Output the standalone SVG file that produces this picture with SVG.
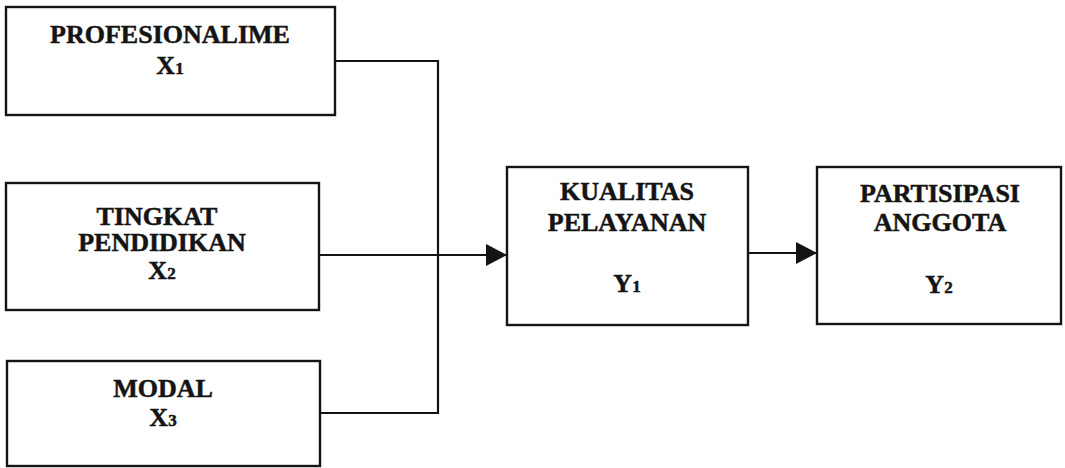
<svg xmlns="http://www.w3.org/2000/svg" width="1065" height="468" viewBox="0 0 1065 468">
  <style>
    .box { fill: #ffffff; stroke: #141414; stroke-width: 2.4; }
    .wire { fill: none; stroke: #141414; stroke-width: 2.2; }
    .lbl { font-family: "Liberation Serif", "Times New Roman", serif; font-weight: bold; font-size: 26px; fill: #141414; stroke: #141414; stroke-width: 0.5; text-anchor: middle; }
    .sub { font-size: 17px; }
  </style>
  <defs>
    <marker id="head" markerWidth="21" markerHeight="22" refX="21" refY="11" orient="auto" markerUnits="userSpaceOnUse">
      <path d="M0,0 L21,11 L0,22 Z" fill="#141414"/>
    </marker>
  </defs>
  <rect width="1065" height="468" fill="#ffffff"/>

  <!-- connectors -->
  <g id="connectors">
    <polyline class="wire" points="335,61 438,61 438,413 320,413"/>
    <line class="wire" x1="319" y1="255" x2="507" y2="255" marker-end="url(#head)"/>
    <line class="wire" x1="748" y1="253" x2="817" y2="253" marker-end="url(#head)"/>
  </g>

  <g id="x1">
    <rect class="box" x="6" y="7" width="329" height="108"/>
    <text class="lbl" x="170" y="43">PROFESIONALIME</text>
    <text class="lbl" x="170" y="74">X<tspan class="sub">1</tspan></text>
  </g>

  <g id="x2">
    <rect class="box" x="6" y="183" width="313" height="127"/>
    <text class="lbl" x="157" y="225">TINGKAT</text>
    <text class="lbl" x="162" y="251">PENDIDIKAN</text>
    <text class="lbl" x="162" y="279">X<tspan class="sub">2</tspan></text>
  </g>

  <g id="x3">
    <rect class="box" x="7" y="361" width="313" height="105"/>
    <text class="lbl" x="163" y="397">MODAL</text>
    <text class="lbl" x="163" y="426">X<tspan class="sub">3</tspan></text>
  </g>

  <g id="y1">
    <rect class="box" x="507" y="167" width="241" height="158"/>
    <text class="lbl" x="627" y="200">KUALITAS</text>
    <text class="lbl" x="627" y="231">PELAYANAN</text>
    <text class="lbl" x="627" y="292">Y<tspan class="sub">1</tspan></text>
  </g>

  <g id="y2">
    <rect class="box" x="817" y="167" width="244" height="157"/>
    <text class="lbl" x="940" y="202">PARTISIPASI</text>
    <text class="lbl" x="940" y="231">ANGGOTA</text>
    <text class="lbl" x="939" y="293">Y<tspan class="sub">2</tspan></text>
  </g>
</svg>
